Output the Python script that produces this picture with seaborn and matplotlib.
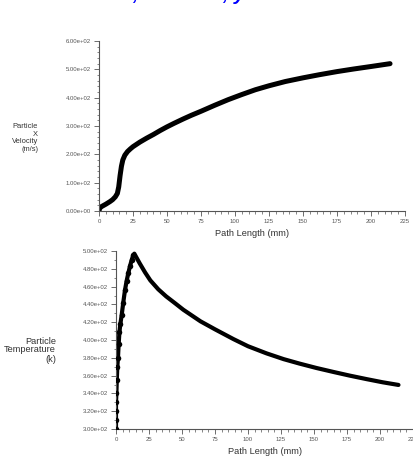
import matplotlib
matplotlib.use('Agg')
import matplotlib.pyplot as plt
from matplotlib.ticker import MultipleLocator, FormatStrFormatter
import seaborn as sns
import pandas as pd

# particle x velocity along the path
vel_path = [0, 0.5, 2, 5, 8, 10, 12, 13.5, 14.5, 15.5, 16.5, 17.5, 19, 21, 23, 25, 30, 35, 40, 45, 50,
            55, 62, 68, 75, 85, 95, 105, 115, 125, 137, 150, 162, 175, 187, 200, 214]
vel_x = [0, 10, 16, 24, 33, 40, 50, 62, 85, 125, 158, 180, 197, 210, 219, 227, 243, 257, 270, 284, 297,
         309, 325, 338, 352, 373, 393, 411, 428, 442, 457, 470, 481, 492, 501, 510, 520]

# particle temperature along the path
temp_path = [0, 0, 0, 0, 0.3, 0.6, 1.0, 1.5, 2.0, 2.6, 3.3, 4.3, 5.5, 6.8, 8.0, 9.3, 10.6, 11.9, 13.0, 13.9,
             15, 18, 22, 26, 32, 38, 45, 51, 58, 64, 75, 89, 100, 114, 127, 139, 152, 165, 177, 190, 202, 214]
temp_k = [300, 310, 320, 330, 340, 355, 370, 380, 395, 409, 418, 428, 442, 456, 466, 475, 483, 490, 495, 497,
          494, 486, 476, 467, 457, 449, 441, 434, 427, 421, 412, 401, 393, 385, 378.5, 373.5, 368.5, 364, 360,
          356, 352.5, 349.5]

vel_df = pd.DataFrame({'path': vel_path, 'vel': vel_x})
temp_df = pd.DataFrame({'path': temp_path, 'temp': temp_k})
# the rising part of the temperature trace shows separate symbols
temp_rise = temp_df[temp_df.path < 13.9]

sns.set_style('white')
plt.rcParams['font.family'] = ['Liberation Sans', 'DejaVu Sans']

fig = plt.figure(figsize=(4.14, 4.62), dpi=100)
ax1 = fig.add_axes([99/414, 1-211/462, 306/414, 170/462])
ax2 = fig.add_axes([116/414, 1-429/462, 297/414, 178/462])

sns.lineplot(data=vel_df, x='path', y='vel', ax=ax1, color='black', lw=3.6,
             sort=False, estimator=None)
ax1.lines[-1].set_solid_capstyle('round')
sns.lineplot(data=temp_df, x='path', y='temp', ax=ax2, color='black', lw=3.0,
             sort=False, estimator=None)
ax2.lines[-1].set_solid_capstyle('round')
sns.scatterplot(data=temp_rise, x='path', y='temp', ax=ax2, color='black', s=16,
                linewidth=0, zorder=3)

ax1.set_xlim(0, 225)
ax1.set_ylim(0, 600)
ax1.yaxis.set_major_locator(MultipleLocator(100))
ax1.yaxis.set_minor_locator(MultipleLocator(20))

ax2.set_xlim(0, 225)
ax2.set_ylim(300, 500)
ax2.yaxis.set_major_locator(MultipleLocator(20))
ax2.yaxis.set_minor_locator(MultipleLocator(10))

for ax in (ax1, ax2):
    ax.xaxis.set_major_locator(MultipleLocator(25))
    ax.xaxis.set_minor_locator(MultipleLocator(5))
    ax.yaxis.set_major_formatter(FormatStrFormatter('%.2e'))
    for side in ('top', 'right'):
        ax.spines[side].set_visible(False)
    for side in ('left', 'bottom'):
        ax.spines[side].set_color('#555555')
        ax.spines[side].set_linewidth(0.8)
    ax.tick_params(which='major', direction='out', length=3.5, width=0.6, color='#555555',
                   labelsize=4.3, labelcolor='#555555', pad=2.5, left=True, bottom=True)
    ax.tick_params(which='minor', direction='out', length=1.8, width=0.5, color='#555555',
                   left=True, bottom=True)
    ax.set_ylabel('')
    ax.set_xlabel('Path Length (mm)', fontsize=6.7, color='#333333', labelpad=3)

fig.text(38/414, 1-138/462, 'Particle\nX\nVelocity\n(m/s)', ha='right', va='center',
         multialignment='right', fontsize=5.4, color='#333333', linespacing=1.1)
fig.text(56/414, 1-350/462, 'Particle\nTemperature\n(k)', ha='right', va='center',
         multialignment='right', fontsize=6.7, color='#333333', linespacing=1.0)

# title mostly cut off at the top edge, only descenders remain
for xpix, ch in [(132, ','), (222, ','), (234, 'y')]:
    fig.text(xpix/414, 1.0, ch, ha='left', va='baseline', color='blue', fontsize=14,
             fontweight='bold', style='italic')

fig.savefig('out.png', dpi=100)
